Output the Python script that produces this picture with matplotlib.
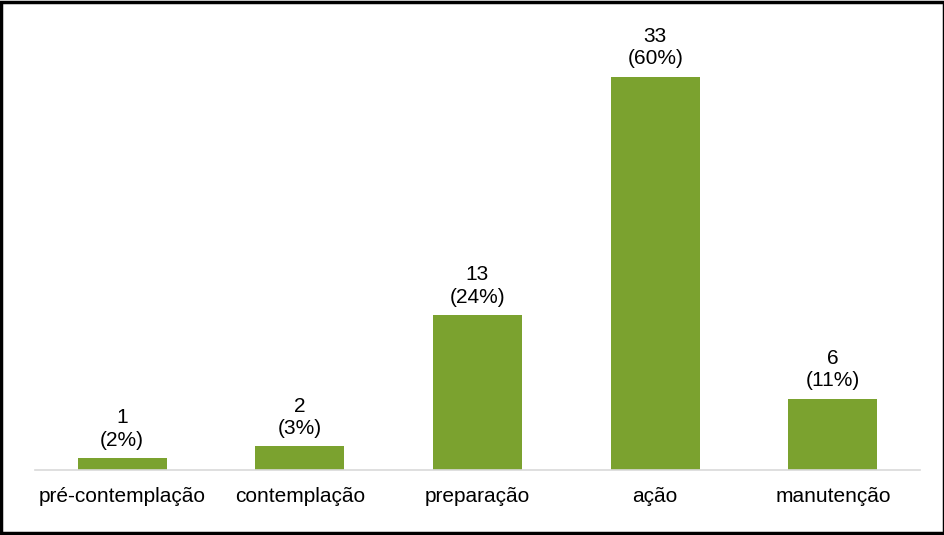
import matplotlib
matplotlib.use('Agg')
import matplotlib.pyplot as plt
from matplotlib.patches import Rectangle

# Data
categories = ['pré-contemplação', 'contemplação', 'preparação', 'ação', 'manutenção']
counts = [1, 2, 13, 33, 6]
percents = ['2%', '3%', '24%', '60%', '11%']

plt.rcParams['font.family'] = ['Liberation Sans', 'DejaVu Sans']

W, H = 945, 535
fig = plt.figure(figsize=(W / 100, H / 100), dpi=100)

# axes placed in pixel terms: x 35..920, baseline at y=470
left, right = 35, 920
bottom_px, top_px = 470, 53
ax = fig.add_axes([left / W, 1 - bottom_px / H, (right - left) / W, (bottom_px - top_px) / H])

x = list(range(len(categories)))
ax.bar(x, counts, width=0.5, color='#7ba22f', zorder=2)
ax.set_xlim(-0.49, len(categories) - 0.51)
ax.set_ylim(0, 35)

for xi, c, p in zip(x, counts, percents):
    ax.annotate(f'{c}\n({p})', (xi, c), xytext=(0, 6), textcoords='offset points',
                ha='center', va='bottom', fontsize=15, linespacing=1.22,
                color='#000000', annotation_clip=False)

ax.set_xticks(x)
ax.set_xticklabels(categories, fontsize=15)
ax.tick_params(axis='x', length=0, pad=12)
ax.set_yticks([])
for s in ['top', 'right', 'left']:
    ax.spines[s].set_visible(False)
ax.spines['bottom'].set_color('#d9d9d9')
ax.spines['bottom'].set_linewidth(1.2)

# black frame around the whole chart
fig.patches.append(Rectangle((0.0015, 0.003), 0.997, 0.994, transform=fig.transFigure,
                             fill=False, edgecolor='black', linewidth=2.5))

fig.savefig('out.png', dpi=100)
